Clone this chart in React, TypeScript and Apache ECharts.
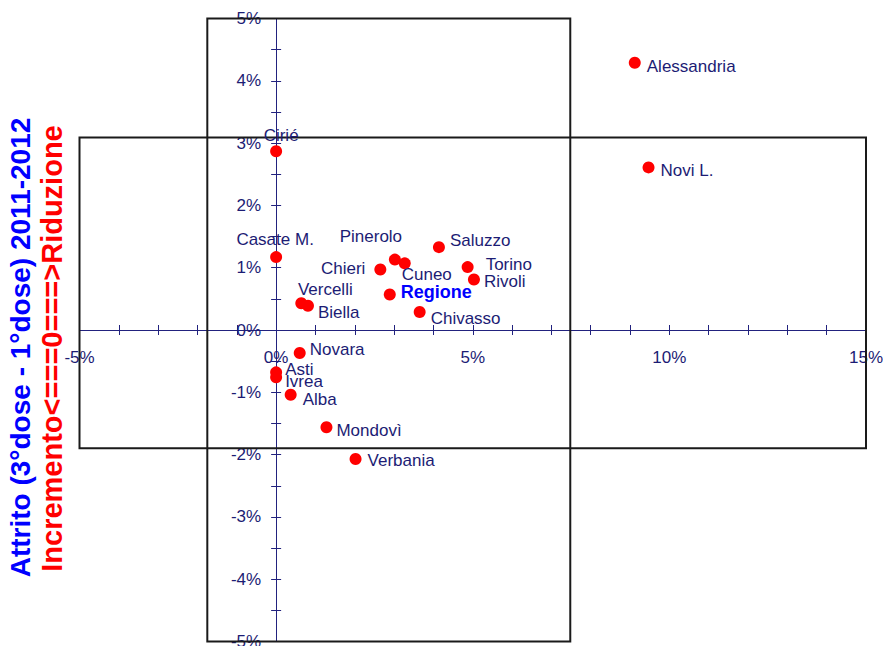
import React, { useEffect, useRef } from 'react';
import * as echarts from 'echarts';

// ---- data ----
const names = ['Alessandria', 'Novi L.', 'Saluzzo', 'Torino', 'Rivoli', 'Regione', 'Chivasso', 'Cuneo', 'Pinerolo', 'Chieri', 'Casate M.', 'Cirié', 'Vercelli', 'Biella', 'Novara', 'Asti', 'Ivrea', 'Alba', 'Mondovì', 'Verbania'];
const xValues = [9.12, 9.47, 4.14, 4.87, 5.03, 2.89, 3.65, 3.27, 3.02, 2.65, 0.0, 0.0, 0.64, 0.81, 0.60, 0.0, 0.0, 0.37, 1.28, 2.02];
const yValues = [4.29, 2.61, 1.33, 1.01, 0.81, 0.57, 0.29, 1.07, 1.13, 0.97, 1.17, 2.87, 0.43, 0.39, -0.37, -0.68, -0.76, -1.04, -1.56, -2.07];
const xRange = [-5, 15];
const yRange = [-5, 5];
const verticalBand = [-1.75, 7.48];
const horizontalBand = [-1.9, 3.09];
const titleBlue = 'Attrito (3°dose - 1°dose) 2011-2012';
const titleRed = 'Incremento<===0===>Riduzione';

// ---- label placement (styling) : [align, dx, dy] from dot centre ----
const labelPlace: Record<string, [string, number, number]> = {
  'Alessandria': ['left', 12, 4],
  'Novi L.': ['left', 12, 3],
  'Saluzzo': ['left', 11, -7],
  'Torino': ['left', 18, -3],
  'Rivoli': ['left', 10, 2],
  'Regione': ['left', 11, -2],
  'Chivasso': ['left', 11, 7],
  'Cuneo': ['left', -3, 11],
  'Pinerolo': ['center', -24, -23],
  'Chieri': ['right', -15, -1],
  'Casate M.': ['center', -1, -18],
  'Cirié': ['center', 5, -16],
  'Vercelli': ['center', 24, -14],
  'Biella': ['left', 10, 7],
  'Novara': ['left', 10, -4],
  'Asti': ['left', 9, -3],
  'Ivrea': ['left', 9, 4],
  'Alba': ['left', 12, 5],
  'Mondovì': ['left', 10, 3],
  'Verbania': ['left', 12, 2],
};

const W = 883;
const H = 646;
const G = { left: 79.5, right: 17, top: 18.5, bottom: 4.5 };
const AX = '#22227e';
const TXT = '#1c1c74';
const FONT = '"Liberation Sans", Arial, sans-serif';
const SYM = 12;

export default function App() {
  const ref = useRef<HTMLDivElement>(null);
  useEffect(() => {
    document.body.style.margin = '0';
    const chart = echarts.init(ref.current!, null, { renderer: 'svg' });
    const data = names.map((n, i) => {
      const [align, dx, dy] = labelPlace[n];
      const isReg = n === 'Regione';
      return {
        name: n,
        value: [xValues[i], yValues[i]],
        label: {
          show: true,
          position: [SYM / 2 + dx, SYM / 2 + dy],
          align,
          verticalAlign: 'middle',
          formatter: '{b}',
          color: isReg ? '#0000ff' : TXT,
          fontWeight: isReg ? 'bold' : 'normal',
          fontSize: isReg ? 18 : 17,
          fontFamily: FONT,
        },
      };
    });
    // axes cross at zero: place them with pixel offsets inside the grid
    const gw = W - G.left - G.right;
    const gh = H - G.top - G.bottom;
    const yAxisOffset = -gw * (0 - xRange[0]) / (xRange[1] - xRange[0]);
    const xAxisOffset = -gh * (0 - yRange[0]) / (yRange[1] - yRange[0]);
    const tickCommon = { show: true, length: 5, lineStyle: { color: AX, width: 1 } };
    const mkX = (main: boolean) => ({
      type: 'value', min: xRange[0], max: xRange[1], interval: 5, position: 'bottom', offset: xAxisOffset,
      axisLine: { show: main, onZero: false, lineStyle: { color: AX, width: 1 } },
      axisTick: { ...tickCommon, inside: !main },
      minorTick: { ...tickCommon, splitNumber: 5 },
      axisLabel: { show: main, formatter: (v: number) => v + '%', color: TXT, fontSize: 17, fontFamily: FONT, margin: 19 },
      splitLine: { show: false }, minorSplitLine: { show: false },
    });
    const mkY = (main: boolean) => ({
      type: 'value', min: yRange[0], max: yRange[1], interval: 1, position: 'left', offset: yAxisOffset,
      axisLine: { show: main, onZero: false, lineStyle: { color: AX, width: 1 } },
      axisTick: { ...tickCommon, inside: !main },
      minorTick: { ...tickCommon, splitNumber: 2 },
      axisLabel: { show: main, formatter: (v: number) => v + '%', color: TXT, fontSize: 17, fontFamily: FONT, margin: 15 },
      splitLine: { show: false }, minorSplitLine: { show: false },
    });
    chart.setOption({
      animation: false,
      backgroundColor: '#ffffff',
      grid: { ...G, containLabel: false, outerBoundsMode: 'none' },
      xAxis: [mkX(true), mkX(false)],
      yAxis: [mkY(true), mkY(false)],
      graphic: [
        {
          type: 'text', x: 20, y: 347.5, rotation: Math.PI / 2,
          style: { text: titleBlue, fill: '#0000ff', font: 'bold 28px "Liberation Sans", Arial, sans-serif', textAlign: 'center', textVerticalAlign: 'middle' },
        },
        {
          type: 'text', x: 52, y: 348.5, rotation: Math.PI / 2,
          style: { text: titleRed, fill: '#ff0000', font: 'bold 29px "Liberation Sans", Arial, sans-serif', textAlign: 'center', textVerticalAlign: 'middle' },
        },
      ],
      series: [
        {
          type: 'scatter',
          xAxisIndex: 0,
          yAxisIndex: 0,
          symbol: 'circle',
          symbolSize: SYM,
          itemStyle: { color: '#ff0000', opacity: 1 },
          data,
          clip: false,
          markArea: {
            silent: true,
            label: { show: false },
            itemStyle: { color: 'rgba(0,0,0,0)', borderColor: '#1a1a1a', borderWidth: 2 },
            data: [
              [{ coord: [verticalBand[0], yRange[1]] }, { coord: [verticalBand[1], yRange[0]] }],
              [{ coord: [xRange[0], horizontalBand[1]] }, { coord: [xRange[1], horizontalBand[0]] }],
            ],
          },
        },
      ],
    });
    return () => chart.dispose();
  }, []);
  return <div ref={ref} style={{ width: W, height: H }} />;
}
